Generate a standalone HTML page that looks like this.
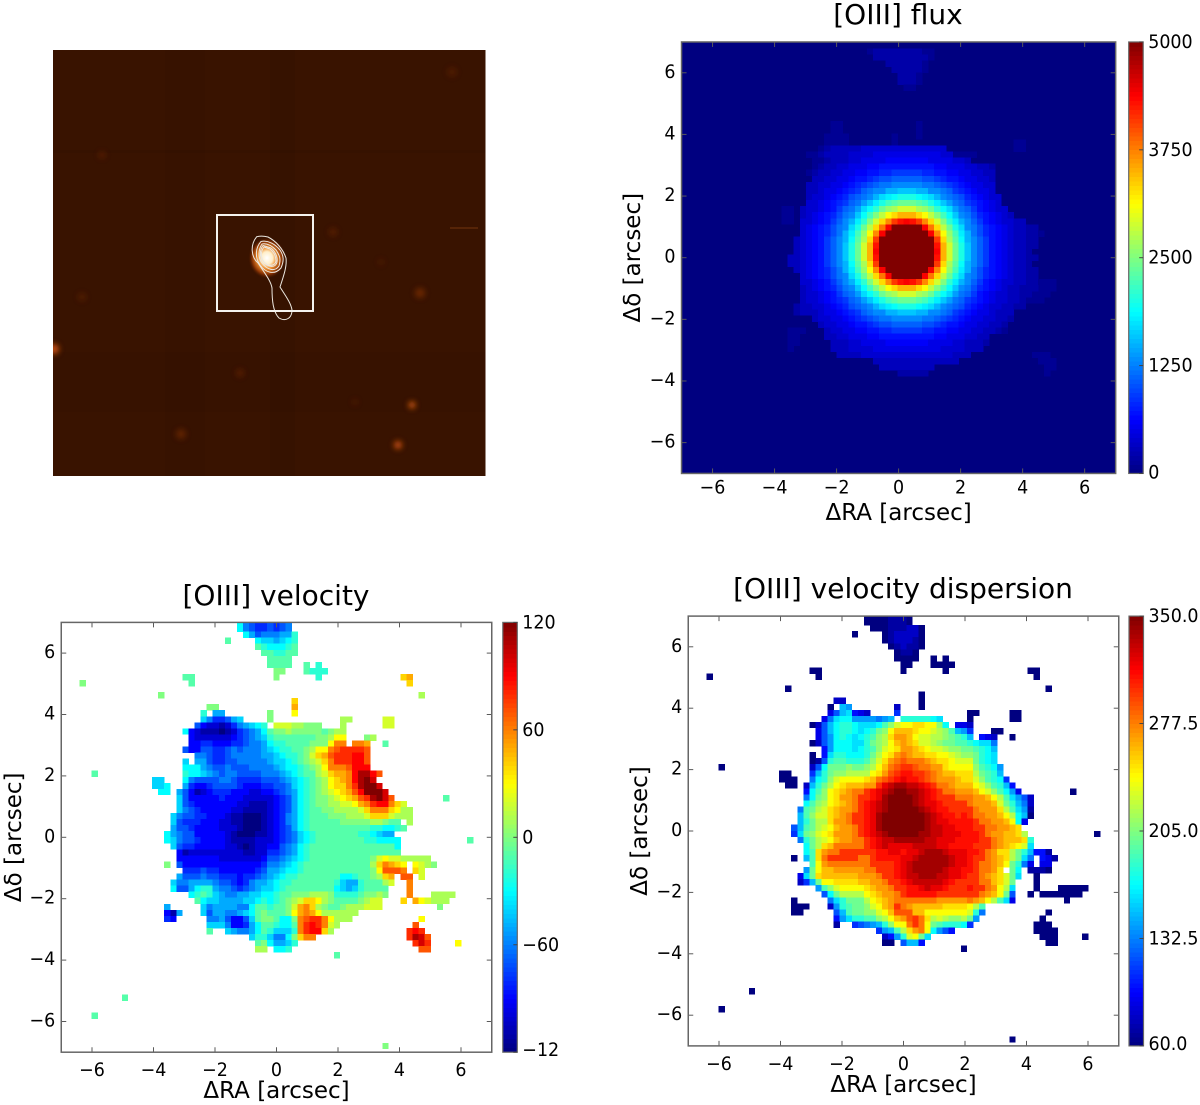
<!DOCTYPE html>
<html lang="en">
<head>
<meta charset="utf-8">
<title>[OIII] maps</title>
<style>
html,body{margin:0;padding:0;background:#fff;width:1200px;height:1105px;overflow:hidden}
svg{display:block}
text{font-family:"DejaVu Sans","Liberation Sans",sans-serif;fill:#000}
</style>
</head>
<body>
<svg id="figure" xmlns="http://www.w3.org/2000/svg" width="1200" height="1105" viewBox="0 0 1200 1105">
<defs>
<filter id="blur1" x="-50%" y="-50%" width="200%" height="200%"><feGaussianBlur stdDeviation="3"/></filter>
<filter id="blur2" x="-50%" y="-50%" width="200%" height="200%"><feGaussianBlur stdDeviation="0.35"/></filter>
<radialGradient id="core-glow"><stop offset="0" stop-color="#fff"/><stop offset=".3" stop-color="#ffeec8"/><stop offset=".5" stop-color="#f09030"/><stop offset=".78" stop-color="#8a3404"/><stop offset="1" stop-color="#381300" stop-opacity="0"/></radialGradient>
<clipPath id="image-clip"><rect x="53" y="50" width="432.5" height="426"/></clipPath>
</defs>
<g clip-path="url(#image-clip)">
<rect x="53" y="50" width="432.5" height="426" fill="#391300"/>
<g>
<rect x="270" y="50" width="25" height="426" fill="#2b0f00" opacity=".18"/>
<rect x="165" y="50" width="40" height="426" fill="#2b0f00" opacity=".08"/>
<rect x="53" y="352" width="432.5" height="60" fill="#2b0f00" opacity=".12"/>
<rect x="53" y="150" width="432.5" height="3" fill="#2b0f00" opacity=".15"/>
<rect x="450" y="227" width="28" height="2" fill="#7a3a10" opacity=".45"/>
</g>
<g filter="url(#blur1)" fill="#a03c06">
<circle cx="412" cy="405" r="3.5" fill="#d05a10"/>
<circle cx="398" cy="445" r="4" fill="#c8500c"/>
<circle cx="54" cy="349" r="5" fill="#c8500c"/>
<circle cx="240" cy="373" r="4" opacity=".3"/>
<circle cx="181" cy="434" r="5" opacity=".4"/>
<circle cx="420" cy="293" r="5" opacity=".5"/>
<circle cx="333" cy="232" r="4" opacity=".3"/>
<circle cx="102" cy="155" r="3.5" opacity=".3"/>
<circle cx="82" cy="297" r="4" opacity=".25"/>
<circle cx="452" cy="72" r="5" opacity=".2"/>
<circle cx="355" cy="402" r="3" opacity=".2"/>
<circle cx="381" cy="262" r="3" opacity=".2"/>
</g>
<ellipse cx="267" cy="258" rx="19" ry="21" fill="url(#core-glow)"/>
<g fill="none" stroke="#ece8e0" filter="url(#blur2)" stroke-width="1">
<path d="M256.7 236.7C250 245 251 257 258 263C264 272 271 281 272 288C272 300 273 312 279 318C286 322 292 318 292 310C291 303 285 295 280 287C284 275 287 266 286 258C283 249 276 241 268 237C264 236 260 236 256.7 236.7Z"/>
<path d="M261 241.5C255 248 255 258 260 265C265 272 274 276 281 268C284 261 284 256 280 250C275 244 268 240 261 241.5Z"/>
<path d="M262 244C258 250 258 258 262 263C267 270 275 272 279 266C281 259 280 256 276 250C272 246 267 243 262 244Z"/>
<path d="M264 247C260 252 261 258 264 262C269 267 275 266 276 261C276 256 274 252 270 249Z"/>
<path d="M263 245.5C259 251 260 257 263 261C268 268 276 268 277 262C278 257 275 251 271 248Z"/>
</g>
<rect x="217" y="215" width="96" height="96" fill="none" stroke="#f4f2ee" stroke-width="2"/>
</g>
<g id="panels"></g>
</svg>
<script>
// Tick labels shared by the arcsec axes
const arcsecTicks = [-6, -4, -2, 0, 2, 4, 6];
const arcsecLabels = ["\u22126", "\u22124", "\u22122", "0", "2", "4", "6"];
const yArcsecTicks = [-6, -4, -2, 0, 2, 4, 6];
const yArcsecLabels = ["\u22126", "\u22124", "\u22122", "0", "2", "4", "6"];

// Colour bar ticks and labels
const fluxBarTicks = [0, 1250, 2500, 3750, 5000];
const fluxBarLabels = ["0", "1250", "2500", "3750", "5000"];
const velocityBarTicks = [-120, -60, 0, 60, 120];
const velocityBarLabels = ["\u221212", "\u221260", "0", "60", "120"];
const dispersionBarTicks = [60, 132.5, 205, 277.5, 350];
const dispersionBarLabels = ["60.0", "132.5", "205.0", "277.5", "350.0"];

// Heatmap values. Each entry: row, first column, then one value per consecutive cell.
// Flux is in units of 100; velocity and dispersion in units of 10 km/s.
const fluxFloorHundreds = 0;
const fluxHundreds = [
[1,30,1,2,2,2,2,2,2,2,2,1,1],[2,31,2,2,2,2,2,2,2,2,2,1],[3,33,2,2,2,2,2,2,1],[4,34,2,2,2,2,2,1],[5,35,2,2,2,1],[6,35,2,2,2,1],[7,36,1,1],
[13,38,1],[14,38,1],[15,38,1],[13,24,1,1],[14,24,1,1],[15,23,1,1,1,1],[16,23,1,1,1,1],[15,34,1],[16,34,1],[16,54,1,1],[17,54,1,1],
[27,16,1,1],[28,16,1,1],[29,16,1,1],[47,17,1,1,1],[48,17,1,1],[49,17,1,1],[50,17,1],[39,59,1,1],[40,58,1,1,1],[41,57,1,1,1],[42,56,1,1,1],[51,57,1,1,1],[52,58,1,1,1],[53,59,1,1],[54,59,1],[18,44,1,1,1,1],
[17,22,1,2,3,3,3,3,3,4,4,4,4,4,4,4,4,4,4,4,4,4,4],
[18,20,1,1,2,3,3,3,3,4,4,4,4,5,5,5,5,5,5,5,5,5,5,5,4,4],
[19,21,1,1,2,3,3,3,4,4,5,5,5,5,6,6,6,6,6,6,6,5,5,5,5,4,4,3],
[20,21,1,2,3,3,4,4,5,5,5,6,6,7,7,7,7,7,7,7,7,7,6,6,5,5,5,4,4,3,3,2],
[21,20,1,2,3,3,4,4,5,5,6,6,7,7,8,8,9,9,9,9,9,8,8,7,7,6,6,5,5,4,4,3,3],
[22,21,3,3,4,4,5,5,6,7,7,8,9,10,10,11,11,11,11,11,10,10,9,8,7,7,6,5,5,4,4,3],
[23,20,3,3,4,4,5,5,6,7,8,9,10,11,12,12,13,13,13,13,13,12,12,11,10,9,8,7,6,5,5,4,4],
[24,20,3,3,4,5,5,6,7,8,9,11,12,13,13,15,15,16,16,16,15,15,13,13,12,11,9,8,7,6,5,5,4],
[25,20,3,4,4,5,6,7,8,10,11,12,13,15,17,18,19,20,20,20,19,18,17,15,13,12,11,10,8,7,6,5,4,4],
[26,20,4,4,5,6,7,8,9,11,12,14,16,18,20,22,23,24,24,24,23,22,20,18,16,14,12,11,9,8,7,6,5,4],
[27,19,3,4,4,5,6,7,9,11,12,14,17,19,21,24,26,27,29,29,29,27,26,24,21,19,17,14,12,11,9,7,6,5,4,4],
[28,19,3,4,5,6,7,8,10,12,13,16,19,22,25,28,31,33,35,35,35,33,31,28,25,22,19,16,13,12,10,8,7,6,5,4,3],
[29,19,4,4,5,6,7,9,11,13,15,18,21,25,29,33,37,41,43,44,43,41,37,33,29,25,21,18,15,13,11,9,7,6,5,4,4,3,3],
[30,19,4,5,6,7,8,10,12,13,17,20,24,28,33,38,44,50,50,50,50,50,44,38,33,28,24,20,17,13,12,10,8,7,6,5,4,3,3,2,2],
[31,19,4,5,6,7,8,10,12,15,18,22,26,31,37,44,50,50,50,50,50,50,50,44,37,31,26,22,18,15,12,10,8,7,6,5,4,3,3,2,2,1],
[32,18,3,4,5,6,7,9,11,13,15,19,23,27,33,41,50,50,50,50,50,50,50,50,50,41,33,27,23,19,15,13,11,9,7,6,5,4,3,3,2,2],
[33,18,3,4,5,6,7,9,11,13,16,20,24,29,35,43,50,50,50,50,50,50,50,50,50,43,35,29,24,20,16,13,11,9,7,6,5,4,3,3,2,2],
[34,18,3,4,5,6,7,9,11,13,16,20,24,29,35,44,50,50,50,50,50,50,50,50,50,44,35,29,24,20,16,13,11,9,7,6,5,4,3,3,2],
[35,17,3,3,4,5,6,7,9,11,13,16,20,24,29,35,43,50,50,50,50,50,50,50,50,50,43,35,29,24,20,16,13,11,9,7,6,5,4,3,3,2,2],
[36,17,3,3,4,5,6,7,9,11,13,15,19,23,27,33,41,50,50,50,50,50,50,50,50,50,41,33,27,23,19,15,13,11,9,7,6,5,4,3,3,2],
[37,18,3,4,5,6,7,8,10,12,15,18,22,26,31,37,44,50,50,50,50,50,50,50,44,37,31,26,22,18,15,12,10,8,7,6,5,4,3,3,2,2],
[38,19,4,5,6,7,8,10,12,13,17,20,24,28,33,38,44,50,50,50,50,50,44,38,33,28,24,20,17,13,12,10,8,7,6,5,4,3,3,2,2],
[39,19,4,4,5,6,7,9,11,13,15,18,21,25,29,33,37,41,43,44,43,41,37,33,29,25,21,18,15,13,11,9,7,6,5,4,4,3,3,2,2,1],
[40,19,3,4,5,6,7,8,10,12,13,16,19,22,25,28,31,33,35,35,35,33,31,28,25,22,19,16,13,12,10,8,7,6,5,4,3,3,2,2,2],
[41,19,3,4,4,5,6,7,9,11,12,14,17,19,21,24,26,27,29,29,29,27,26,24,21,19,17,14,12,11,9,7,6,5,4,4,3,3,2,2],
[42,19,3,4,4,5,6,7,8,9,11,12,14,16,18,20,22,23,24,24,24,23,22,20,18,16,14,12,11,9,8,7,6,5,4,4,3,3,2],
[43,18,2,3,3,4,4,5,6,7,8,10,11,12,13,15,17,18,19,20,20,20,19,18,17,15,13,12,11,10,8,7,6,5,4,4,3,3,2,2],
[44,18,2,3,3,3,4,5,5,6,7,8,9,11,12,13,13,15,15,16,16,16,15,15,13,13,12,11,9,8,7,6,5,5,4,3,3,3],
[45,21,3,4,4,5,5,6,7,8,9,10,11,12,12,13,13,13,13,13,12,12,11,10,9,8,7,6,5,5,4,4,3,3,2],
[46,22,3,4,4,5,5,6,7,7,8,9,10,10,11,11,11,11,11,10,10,9,8,7,7,6,5,5,4,4,3,3,2],
[47,23,3,4,4,5,5,6,6,7,7,8,8,9,9,9,9,9,8,8,7,7,6,6,5,5,4,4,3,3,2,1],
[48,23,3,3,4,4,5,5,5,6,6,7,7,7,7,7,7,7,7,7,6,6,5,5,5,4,4,3,3],
[49,24,3,3,3,4,4,5,5,5,5,6,6,6,6,6,6,6,5,5,5,5,4,4,3,3,3,2],
[50,24,3,3,3,4,4,4,4,5,5,5,5,5,5,5,5,5,5,5,4,4,4,4,3,3,3],
[51,25,3,3,3,3,4,4,4,4,4,4,4,4,4,4,4,4,4,4,4,3,3,3],
[52,31,3,3,3,3,3,3,3,3,3,3,3,3,3,3],
[53,32,3,3,3,3,3,3,3,3,3],
[54,35,2,2,2,2,2]
];

const velocityTens = [
[0,29,-3,-6,-7,-8,-8,-7,-8,-7,-6],[1,29,-3,-6,-7,-8,-8,-7,-8,-7,-6],[2,30,-3,-5,-7,-6,-6,-6,-5,-5,-2],
[3,27,-1],[3,32,-3,-4,-4,-5,-4,-3,-2],[4,32,-1,-2,-3,-3,-3,-2,-1],[5,33,-1,-1,-2,-2,-1,-1],[6,34,-1,-1,-1,-1],
[7,34,-1,-1,-1,-1],[7,40,-1],[7,42,-2],[8,35,0,0],[8,40,-1,-2,-2,-2],[9,20,-1,-1],[9,35,0],[9,42,-2],[9,56,4,5],
[10,3,0],[10,21,-1],[10,57,4],[12,16,0],[12,59,1],[13,38,4],[14,24,0,0],[14,38,5],
[15,23,-2],[15,25,-5,-5],[15,34,0],[15,38,3],[16,23,-4,-6,-8,-8,-7,-5,-4],[16,34,0],[16,46,1,1],[16,53,2,2],
[17,22,-7,-9,-10,-10,-11,-10,-8,-6,-5,-4,-3,-2],[17,35,2,2,2,1,1,0,0,0],[17,46,1],[17,53,2,2],
[18,20,-3,-9,-10,-11,-11,-11,-12,-11,-10,-8,-7,-6,-5,-3,-1,0,0,1,0,0,0,0,0,-1,0,1,1],
[19,21,-9,-10,-10,-10,-10,-10,-10,-9,-8,-7,-6,-5,-4,-2,-1,-1,-1,-1,-1,-1,-1,0,0,1,3,3],[19,50,0,1],
[20,21,-9,-9,-8,-8,-9,-9,-9,-8,-8,-7,-6,-6,-5,-3,-2,-2,-1,-1,-1,-1,0,0,0,3,6,6],[20,48,6,6,5],[20,53,-1],
[21,20,-7,-9,-9,-7,-7,-8,-8,-7,-6,-7,-6,-6,-6,-5,-4,-3,-2,-2,-1,-1,0,1,3,3,6,7,8,8,8,8,7],
[22,22,-6,-6,-7,-8,-8,-7,-6,-6,-6,-6,-6,-5,-5,-4,-3,-2,-2,-1,0,2,4,5,7,8,8,8,9,9,7],
[23,20,-4],[23,22,-5,-5,-7,-8,-8,-7,-7,-6,-6,-6,-6,-6,-5,-4,-4,-3,-2,-1,0,1,2,4,6,8,8,8,9,9,7],
[24,20,-3,-3,-3,-5,-6,-7,-7,-6,-7,-7,-7,-6,-6,-6,-6,-5,-4,-3,-3,-2,-1,0,1,3,6,6,6,7,9,9,9],
[25,5,-1],[25,20,-2,-3,-3,-4,-5,-6,-7,-6,-6,-7,-7,-7,-7,-6,-6,-6,-5,-4,-3,-2,-1,-1,1,2,4,5,5,6,9,11,11,9,7],
[26,15,-4,-4],[26,20,-3,-6,-7,-7,-7,-7,-6,-6,-7,-8,-8,-8,-8,-7,-7,-7,-6,-5,-4,-3,-2,-1,0,1,3,4,5,6,9,11,12,10],
[27,15,-4,-4,-3],[27,20,-5,-8,-9,-9,-8,-7,-7,-7,-7,-8,-9,-9,-9,-8,-8,-7,-7,-6,-4,-3,-2,-1,0,1,3,4,4,6,8,11,12,12,10],
[28,16,-3,-3],[28,19,-5,-7,-9,-11,-10,-9,-8,-8,-8,-9,-9,-9,-10,-10,-9,-9,-8,-7,-6,-5,-3,-2,-1,0,1,2,3,4,5,7,9,12,12,12,10],
[29,19,-4,-7,-9,-9,-9,-9,-9,-8,-9,-9,-9,-10,-10,-10,-10,-10,-9,-8,-7,-5,-3,-2,-1,0,0,1,2,3,4,5,7,8,11,12,10,7],[29,63,-1],
[30,19,-4,-7,-8,-9,-9,-9,-9,-9,-9,-9,-10,-10,-11,-11,-11,-10,-9,-8,-7,-5,-3,-2,-1,0,0,1,1,2,2,3,5,6,8,9,9,6,4,2],
[31,19,-4,-6,-7,-8,-9,-9,-9,-9,-9,-10,-10,-11,-11,-11,-11,-10,-9,-8,-7,-5,-3,-2,-1,-1,0,0,1,1,1,1,2,4,6,6,6,4,3,1,1],
[32,18,-4,-6,-7,-7,-8,-8,-9,-9,-9,-10,-11,-11,-12,-12,-12,-11,-10,-9,-8,-6,-5,-3,-2,-1,-1,-1,0,0,0,1,1,1,2,4,4,4,2,1,1,1],
[33,18,-4,-7,-8,-8,-8,-9,-9,-9,-10,-10,-11,-11,-12,-12,-12,-11,-10,-9,-8,-6,-5,-3,-2,-1,-1,-1,-1,-1,0,0,0,0,0,1,1,0,-1,-1],[33,57,1],
[34,18,-5,-7,-7,-8,-9,-9,-9,-9,-10,-10,-10,-11,-12,-12,-12,-11,-10,-9,-8,-7,-5,-3,-2,-1,-1,-1,-1,-1,-1,-1,-1,-1,-1,-2,-2,-3,-3,-2,-1],
[35,17,-3,-5,-6,-7,-7,-9,-9,-9,-9,-9,-10,-11,-12,-12,-12,-11,-11,-10,-9,-8,-7,-6,-4,-3,-2,-1,-1,-1,-1,-1,-1,-1,-2,-2,-3,-4,-5,-5],
[36,17,-3,-4,-6,-7,-7,-8,-9,-9,-9,-9,-10,-11,-11,-11,-11,-10,-10,-10,-9,-8,-7,-6,-4,-3,-2,-1,-1,-1,-1,-1,-1,-1,-1,-2,-2,-3,-3,-3,-3],[36,67,-1],
[37,18,-4,-7,-8,-8,-9,-9,-9,-9,-9,-10,-10,-11,-12,-11,-10,-10,-9,-9,-7,-6,-5,-3,-2,-1,-1,-1,-1,-1,-1,-1,-1,-1,-1,-1,-1,-1,-1,-3],
[38,19,-9,-11,-10,-10,-10,-10,-10,-10,-10,-10,-10,-11,-11,-10,-10,-8,-8,-7,-6,-5,-3,-2,-1,-1,-1,-1,-1,-1,-1,-1,-1,-1,-1,-1,-1,-1,-1],
[39,19,-9,-9,-9,-9,-9,-9,-9,-10,-10,-10,-10,-10,-10,-10,-9,-7,-7,-6,-5,-4,-3,-2,-1,-1,-1,-1,-1,-1,-1,-1,-1,-1,0,2,3,2,2,1,1,1,1,1],
[40,17,0],[40,19,-7,-9,-9,-9,-9,-9,-9,-9,-9,-9,-9,-9,-9,-9,-8,-6,-6,-5,-4,-3,-2,-1,-1,-1,-1,-1,-1,-1,-1,-1,-1,-1,1,4,6,5,4,3],[40,58,3,2,1,0],
[41,20,-8,-8,-8,-7,-8,-8,-9,-9,-9,-9,-9,-9,-8,-7,-5,-5,-4,-3,-3,-2,-1,-1,-1,-1,-1,-1,-1,-1,-1,-1,-1,0,3,7,7,7,6],[41,58,4,2],
[42,19,-5,-7,-7,-7,-6,-7,-7,-8,-8,-8,-9,-8,-8,-7,-6,-5,-4,-3,-2,-2,-1,-1,-1,-1,-1,-1,-1,-3,-3,-2,-1,-1,0,1,4,5],[42,56,7,7],[42,59,2],
[43,18,-4,-6,-6,-5,-5,-5,-5,-6,-7,-7,-8,-9,-8,-6,-5,-5,-4,-3,-2,-2,-1,-1,-1,-1,-1,-1,-1,-2,-4,-5,-5,-2,-1,-1,-1,1,2],[43,57,6],
[44,18,-3,-7,-7,-5,-3,-2,-2,-5,-6,-6,-7,-8,-7,-6,-5,-4,-4,-3,-2,-1,-1,-1,-1,-1,-1,-1,-1,-3,-4,-5,-4,-2,-1,-1,-1,-1],[44,57,6],
[45,21,-3,-2,-1,-2,-4,-5,-6,-6,-5,-5,-4,-4,-3,-3,-2,-1,-1,0,0,0,1,1,1,0,-2,-2,-2,-2,-1,0,0,1,0],[45,57,6],[45,61,1,1,1,1],
[46,22,-1,-3,-4,-4,-5,-5,-5,-5,-4,-4,-3,-2,-3,-2,-1,0,1,2,4,4,3,1,0,-1,-1,-1,-1,0,1,2,2],[46,56,4],[46,58,5,3,2,1,1,1],
[47,17,-5],[47,23,-4,-6,-5,-5,-5,-5,-6,-6,-3,-1,-1,-2,-1,-1,0,2,5,6,4,1,0,-1,-1,0,1,1,1,2,2,2],[47,62,0],
[48,17,-9,-11,-5],[48,23,-4,-7,-5,-5,-6,-6,-5,-4,-3,-1,0,-1,-1,-1,0,3,5,6,5,3,1,1,1,1,1,1],
[49,17,-8,-9],[49,24,-6,-6,-5,-7,-9,-9,-7,-4,-1,0,0,-1,-3,-3,0,6,7,8,8,6,3,1,1,1],[49,59,3],
[50,24,-4,-4,-4,-6,-9,-9,-8,-5,-3,-1,-1,-2,-3,-3,-1,6,8,9,8,6,2,1],[50,58,7],
[51,24,-1],[51,27,-4,-5,-6,-6,-5,-3,-1,-2,-4,-4,-4,-2,6,8,9,9,4,1],[51,57,8,9,8],
[52,31,-4,-2,-2,-4,-6,-6,-3,0,4,6,6],[52,57,8,11,10,7],
[53,32,-1,0,-3,-5,-5,-4,-2],[53,58,8,10,8],[53,65,3],
[54,32,1,1],[54,35,-3,-3,-2],[54,59,7,7],[55,45,-1],[62,10,-1],[65,5,-1],[70,53,0]
];

const dispersionTens = [
[0,29,6,6,6,6,7,7,7,6],[1,29,6,6,6,6,7,7,7,6],[2,30,6,6,6,7,7,7,8,8,6],[3,27,6],[3,32,6,7,8,8,8,8,6],[4,32,6,7,8,8,8,7,6],[5,33,6,7,8,7,7,6],[6,34,6,7,7,6],
[7,34,6,6,6,6],[7,40,6],[7,42,6],[8,35,6,6],[8,40,6,6,6,6],[9,20,6,6],[9,35,6],[9,42,6],[9,56,6,6],[10,3,6],[10,21,6],[10,57,6],[12,16,6],[12,59,6],[13,38,6],[14,24,8,8],[14,38,6],
[15,23,6],[15,25,15,14],[15,34,8],[15,38,6],[16,23,9,12,15,16,10,9,8],[16,34,11],[16,46,6,6],[16,53,6,6],
[17,22,9,13,16,17,17,14,14,14,14,13,14,15],[17,35,18,18,18,18,18,17,16],[17,46,6],[17,53,6,6],
[18,20,6,8,12,15,17,18,18,17,16,16,16,17,19,21,23,24,24,25,25,24,24,21,17],[18,44,9,9,8],
[19,21,9,12,15,17,18,18,17,16,17,18,20,21,24,26,26,26,25,24,24,23,22,21,19,15,14,11],[19,50,6,6],
[20,21,9,12,14,17,18,17,16,17,18,19,21,22,25,27,27,26,24,23,23,22,22,21,20,19,18,15],[20,48,10,9,8],[20,53,6],
[21,20,6,8,12,14,17,17,17,16,16,18,20,21,22,24,26,27,26,25,23,23,22,21,20,20,19,19,18,17,16,16,13],
[22,22,10,14,17,17,17,16,17,18,19,21,23,24,25,27,27,26,25,24,23,23,22,21,21,20,20,19,18,17,15],
[23,20,6],[23,22,10,16,18,18,17,17,17,18,20,22,24,25,27,28,27,26,26,25,25,24,24,23,22,21,21,20,18,17,16],
[24,20,6,7,12,18,19,19,18,18,18,19,21,23,25,27,28,29,28,28,28,27,26,25,25,24,23,23,23,20,18,17,16],
[25,5,6],[25,20,8,12,17,20,20,20,21,20,20,21,22,24,26,28,29,30,30,29,28,28,27,27,25,24,24,24,24,21,19,18,17,14],
[26,15,6,6],[26,20,11,15,18,20,21,21,22,22,22,22,24,25,27,29,30,31,31,30,30,29,28,27,26,26,25,25,25,22,20,19,18,15],
[27,15,6,6,6],[27,20,13,17,18,21,23,24,24,24,24,25,26,28,29,30,31,32,31,31,30,29,28,27,27,27,26,25,25,23,21,19,18,17,11],
[28,16,6,6],[28,19,8,15,18,20,22,24,25,26,26,26,27,27,30,32,33,34,34,33,33,32,31,30,28,28,27,26,26,26,24,23,21,19,18,15,10],
[29,19,10,17,19,21,24,25,26,27,28,28,30,31,32,33,34,35,35,34,34,33,32,31,30,28,28,27,27,27,26,24,23,21,19,17,14,9],[29,63,6],
[30,19,13,17,20,21,24,25,27,27,28,30,30,31,32,34,35,35,35,35,34,33,32,31,30,30,30,28,28,28,27,27,26,24,22,19,16,14,12,8],
[31,19,17,19,21,22,24,25,26,27,28,30,31,32,33,34,35,35,35,35,34,33,32,32,31,30,30,30,30,28,27,27,27,26,23,20,18,15,13,8],
[32,18,13,19,20,22,23,25,26,27,27,28,30,31,32,33,34,35,35,35,35,35,34,33,32,31,31,30,30,30,30,28,27,27,27,25,22,19,16,14,7],
[33,18,15,19,21,23,23,25,26,27,28,30,30,31,32,34,35,35,35,35,35,35,35,34,33,32,31,31,30,31,30,28,28,27,27,26,24,22,17,15,6],
[34,18,15,18,20,22,22,25,27,27,28,30,30,31,32,34,35,35,35,35,35,35,35,34,33,32,32,31,31,31,31,30,28,28,27,27,26,24,17,9],
[35,17,12,15,19,20,22,23,24,26,27,27,28,30,31,32,34,35,35,35,35,35,35,35,34,33,33,32,32,31,31,31,30,30,28,28,27,27,26,25],
[36,17,11,16,20,21,23,24,25,27,27,27,28,30,31,32,33,34,35,35,35,35,35,34,34,33,33,32,32,32,31,31,31,30,28,27,27,26,26,25,22],[36,67,6],
[37,18,13,18,20,22,23,24,26,27,27,28,28,30,31,32,33,33,34,34,34,34,34,33,33,32,32,32,31,31,31,31,30,30,28,27,26,26,26,25,18],
[38,19,17,20,22,25,26,28,28,28,28,28,30,31,32,33,32,32,32,32,33,33,33,33,32,32,31,31,31,31,30,30,30,28,27,26,25,24,23,16],
[39,19,17,19,25,27,28,28,30,30,30,30,30,30,31,31,32,32,31,32,32,33,34,34,34,33,32,32,32,31,31,30,28,27,25,25,22,20,18,15,10,10,7],
[40,17,6],[40,19,15,19,25,28,30,30,30,30,30,28,28,30,31,31,31,31,32,32,33,34,34,34,34,34,33,32,32,31,30,30,28,27,26,25,22,20,16,13],[40,58,10,9,7],
[41,20,19,24,27,28,28,28,28,28,28,28,30,30,30,30,31,32,33,34,34,34,34,34,34,33,32,32,31,30,28,28,27,26,24,20,18,13,9],[41,58,9,9],
[42,19,14,20,24,26,26,27,27,27,27,27,28,28,30,30,30,31,32,33,34,34,34,34,34,33,32,32,31,31,30,28,28,27,25],[42,53,20,17],[42,56,7,7,7,6],
[43,18,9,16,20,25,26,26,26,26,26,26,27,27,27,28,30,30,31,32,33,33,34,34,34,33,33,32,32,31,30,30,28,27,26,25,23,20,16],[43,57,6],
[44,18,8,11,15,20,24,24,25,25,25,25,26,26,27,27,28,30,30,31,32,33,33,33,33,33,32,31,30,30,30,30,28,28,26,25,23,20],[44,57,6],
[45,21,14,19,21,23,24,24,24,24,25,26,27,27,28,30,30,31,31,32,33,32,32,31,30,30,30,31,30,30,28,27,24,22,16],[45,57,6],[45,61,6,6,6,6,6],
[46,22,12,17,20,22,22,22,22,24,25,26,27,27,28,30,31,31,31,31,31,30,30,30,30,30,30,30,28,27,26,24,20,12],[46,56,6],[46,58,6,6,6,6,6,6,6],
[47,17,6],[47,23,13,16,18,20,20,20,22,24,25,26,27,28,28,28,28,28,28,28,27,27,27,27,27,28,27,26,24,22,19,16,9],[47,62,6],
[48,17,6,6,6],[48,23,8,14,18,19,20,20,21,23,24,26,27,30,28,27,26,26,26,26,26,25,25,25,25,24,22,19],
[49,17,6,6],[49,24,12,15,19,20,20,21,21,23,24,26,29,29,29,26,26,24,24,24,24,24,24,24,23,18,13],[49,59,6],
[50,24,10,14,16,18,18,19,19,21,22,24,26,27,29,30,28,25,22,23,22,21,21,22,20,14],[50,58,6],
[51,24,7],[51,27,11,12,13,14,15,18,21,24,24,28,30,28,24,20,19,18,18,18,17,11],[51,57,6,6,6],
[52,31,11,14,15,19,22,25,27,28,24,17,14,12,10],[52,57,6,6,6,6],
[53,32,8,10,14,18,23,24,20,16],[53,58,6,6,6],[53,65,6],
[54,32,6,6],[54,35,12,15,15,10],[54,59,6,6],[55,45,6],[62,10,6],[65,5,6],[70,53,6]
];

const SVGNS = "http://www.w3.org/2000/svg";
const root = document.getElementById("panels");
function clamp01(v){ return Math.max(0, Math.min(1, v)); }
function jet(t){
  const r = clamp01(1.5 - Math.abs(4*t - 3));
  const g = clamp01(1.5 - Math.abs(4*t - 2));
  const b = clamp01(1.5 - Math.abs(4*t - 1));
  return "rgb(" + Math.round(r*255) + "," + Math.round(g*255) + "," + Math.round(b*255) + ")";
}
function make(tag, attrs, parent, text){
  const el = document.createElementNS(SVGNS, tag);
  for (const k in attrs) el.setAttribute(k, attrs[k]);
  if (text !== undefined) el.textContent = text;
  parent.appendChild(el);
  return el;
}
function tickText(parent, x, y, anchor, str){
  return make("text", {x: 0, y: 0, "text-anchor": anchor, "font-size": 19,
    transform: "translate(" + x + "," + y + ") scale(0.92,1)"}, parent, str);
}
const cellArcsec = 0.197;
const tickLen = 5;

function drawPanel(p){
  const xScale = d => p.cx + d * p.sx;
  const yScale = d => p.cy - d * p.sy;
  const colour = v => jet(clamp01((v - p.vmin) / (p.vmax - p.vmin)));
  const left = xScale(-7), right = xScale(7), top = yScale(7), bottom = yScale(-7);

  const g = make("g", {}, root);
  
  

  const clipId = p.name + "-clip";
  const cp = make("clipPath", {id: clipId}, g);
  make("rect", {x: left, y: top, width: right - left, height: bottom - top}, cp);

  const heat = make("g", {"clip-path": "url(#" + clipId + ")", "shape-rendering": "crispEdges"}, g);
  
  
  const bg = make("rect", {x: left, y: top, width: right - left, height: bottom - top,
    fill: p.floor === null ? "#fff" : colour(p.floor * p.unit)}, heat);
  
  

  p.runs.forEach(run => {
    const row = run[0], first = run[1];
    for (let i = 2; i < run.length; i++) {
      const col = first + i - 2;
      const dx = p.originX + col * cellArcsec;
      const dy = p.originY - row * cellArcsec;
      const cell = make("rect", {x: xScale(dx).toFixed(2), y: yScale(dy).toFixed(2),
        width: (cellArcsec * p.sx + 0.3).toFixed(2), height: (cellArcsec * p.sy + 0.3).toFixed(2),
        fill: colour(run[i] * p.unit)}, heat);
      
      
    }
  });

  const axes = make("g", {stroke: "#5a5a5a", "stroke-width": 1}, g);
  
  
  const frame = make("rect", {x: left, y: top, width: right - left, height: bottom - top,
    fill: "none", stroke: "#666", "stroke-width": 1.5}, g);
  
  

  arcsecTicks.forEach((t, i) => {
    const x = xScale(t);
    make("line", {x1: x, x2: x, y1: bottom, y2: bottom - tickLen}, axes);
    make("line", {x1: x, x2: x, y1: top, y2: top + tickLen}, axes);
    const lab = tickText(g, x, bottom + p.xTickGap, "middle", arcsecLabels[i]);
    
    
  });
  yArcsecTicks.forEach((t, i) => {
    const y = yScale(t);
    make("line", {x1: left, x2: left + tickLen, y1: y, y2: y}, axes);
    make("line", {x1: right, x2: right - tickLen, y1: y, y2: y}, axes);
    const lab = tickText(g, left - 6, y + 5, "end", yArcsecLabels[i]);
    
    
  });

  const title = make("text", {x: p.titleX, y: p.titleY, "text-anchor": "middle", "font-size": p.titleFont}, g, p.title);
  
  
  const xlab = make("text", {x: xScale(0), y: p.xLabelY, "text-anchor": "middle", "font-size": p.labelFont}, g, "\u0394RA [arcsec]");
  
  
  const ylab = make("text", {x: 0, y: 0, "text-anchor": "middle", "font-size": p.labelFont,
    transform: "translate(" + p.yLabelX + "," + yScale(0) + ") rotate(-90)"}, g, "\u0394\u03B4 [arcsec]");
  
  

  // colour bar
  const bar = make("g", {}, g);
  
  
  const barScale = v => bottom + (top - bottom) * (v - p.vmin) / (p.vmax - p.vmin);
  const steps = 96;
  for (let i = 0; i < steps; i++) {
    const v0 = p.vmin + (p.vmax - p.vmin) * i / steps;
    const v1 = p.vmin + (p.vmax - p.vmin) * (i + 1) / steps;
    make("rect", {x: p.barX, y: barScale(v1), width: p.barW, height: barScale(v0) - barScale(v1) + 0.4,
      fill: colour((v0 + v1) / 2), "shape-rendering": "crispEdges"}, bar);
  }
  make("rect", {x: p.barX, y: top, width: p.barW, height: bottom - top, fill: "none", stroke: "#666", "stroke-width": 1.2}, bar);
  p.barTicks.forEach((t, i) => {
    const y = barScale(t);
    make("line", {x1: p.barX + p.barW, x2: p.barX + p.barW - 4, y1: y, y2: y, stroke: "#444", "stroke-width": 1}, bar);
    const lab = tickText(bar, p.barX + p.barW + 5, y + 6 + p.barShift[i], "start", p.barLabels[i]);
    
    
  });
}

drawPanel({name: "flux", title: "[OIII] flux", runs: fluxHundreds, unit: 100, floor: fluxFloorHundreds,
  vmin: 0, vmax: 5000, cx: 898.6, cy: 257.7, sx: 31.01, sy: 30.82, originX: -6.93, originY: 6.993,
  titleX: 898, titleY: 24, titleFont: 28, labelFont: 23, xTickGap: 20, xLabelY: 520, yLabelX: 640,
  barX: 1128.7, barW: 14.5, barTicks: fluxBarTicks, barLabels: fluxBarLabels, barShift: [-1, 0, 0, 0, 0]});
drawPanel({name: "velocity", title: "[OIII] velocity", runs: velocityTens, unit: 10, floor: null,
  vmin: -120, vmax: 120, cx: 276.5, cy: 837.3, sx: 30.75, sy: 30.7, originX: -7, originY: 7.094,
  titleX: 276, titleY: 605, titleFont: 28, labelFont: 23, xTickGap: 24, xLabelY: 1098, yLabelX: 21,
  barX: 502.8, barW: 14.5, barTicks: velocityBarTicks, barLabels: velocityBarLabels, barShift: [-2, 0, 0, 0, 0]});
drawPanel({name: "dispersion", title: "[OIII] velocity dispersion", runs: dispersionTens, unit: 10, floor: null,
  vmin: 60, vmax: 350, cx: 903.5, cy: 831, sx: 30.75, sy: 30.7, originX: -7, originY: 7.1,
  titleX: 903, titleY: 598, titleFont: 28, labelFont: 23, xTickGap: 24, xLabelY: 1092, yLabelX: 647,
  barX: 1129, barW: 14.5, barTicks: dispersionBarTicks, barLabels: dispersionBarLabels, barShift: [-2, 0, 0, 0, 0]});
</script>
</body>
</html>
